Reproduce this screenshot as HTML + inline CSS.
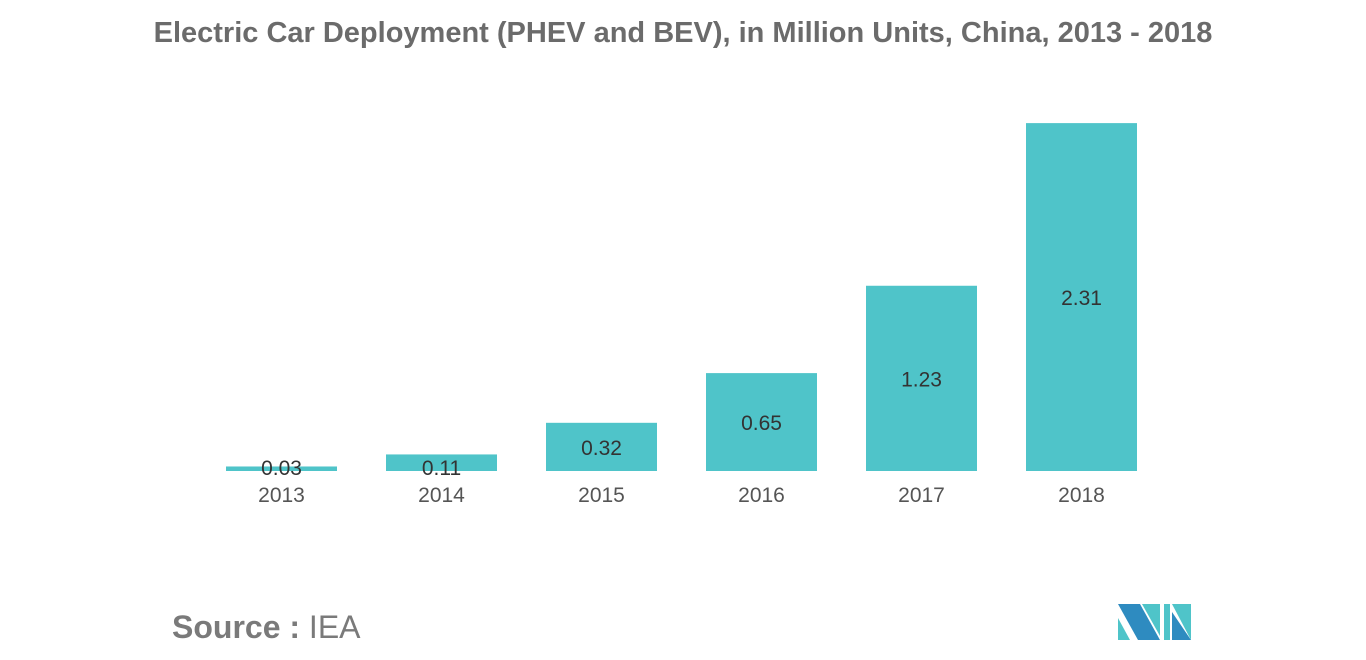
<!DOCTYPE html>
<html><head><meta charset="utf-8"><style>
body{margin:0;background:#fff;width:1366px;height:655px;overflow:hidden;font-family:"Liberation Sans",sans-serif}
</style></head><body>
<svg width="1366" height="655">
<text x="683" y="42" text-anchor="middle" font-size="29" font-weight="bold" fill="#6b6b6b">Electric Car Deployment (PHEV and BEV), in Million Units, China, 2013 - 2018</text>
<g id="bars"></g>
<text x="172" y="638" font-size="32" font-weight="bold" fill="#7a7a7a">Source :<tspan font-weight="normal"> IEA</tspan></text>
<g>
<polygon points="1118,604 1140,604 1160,640 1138,640" fill="#2e8bc0"/>
<polygon points="1118,618 1130,640 1118,640" fill="#4fc4c9"/>
<polygon points="1142,604 1160,604 1160,636" fill="#4fc4c9"/>
<polygon points="1164,604 1170,604 1170,640 1164,640" fill="#4fc4c9"/>
<polygon points="1172,604 1191,604 1191,640" fill="#4fc4c9"/>
<polygon points="1172,612 1191,640 1172,640" fill="#2e8bc0"/>
</g>
</svg>
<script>
const categories=["2013","2014","2015","2016","2017","2018"];
const values=[0.03,0.11,0.32,0.65,1.23,2.31];
const labels=["0.03","0.11","0.32","0.65","1.23","2.31"];
const g=document.getElementById('bars');
const base=471,scale=150.6,x0=226,step=160,bw=111;
const ns="http://www.w3.org/2000/svg";
function y(v){return base-v*scale;}
categories.forEach((c,i)=>{
 const x=x0+i*step;
 const r=document.createElementNS(ns,'rect');
 
 
 r.setAttribute('x',x);r.setAttribute('y',y(values[i]));
 r.setAttribute('width',bw);r.setAttribute('height',base-y(values[i]));
 r.setAttribute('fill','#4fc4c9');g.appendChild(r);
 const t=document.createElementNS(ns,'text');
 
 
 const h=base-y(values[i]);
 t.setAttribute('x',x+bw/2);t.setAttribute('y',h<30?base+4:(y(values[i])+base)/2+8);
 t.setAttribute('text-anchor','middle');t.setAttribute('font-size','21');t.setAttribute('fill','#333');
 t.textContent=labels[i];g.appendChild(t);
 const a=document.createElementNS(ns,'text');
 
 
 a.setAttribute('x',x+bw/2);a.setAttribute('y',502);
 a.setAttribute('text-anchor','middle');a.setAttribute('font-size','21');a.setAttribute('fill','#555');
 a.textContent=c;g.appendChild(a);
});
</script>
</body></html>
